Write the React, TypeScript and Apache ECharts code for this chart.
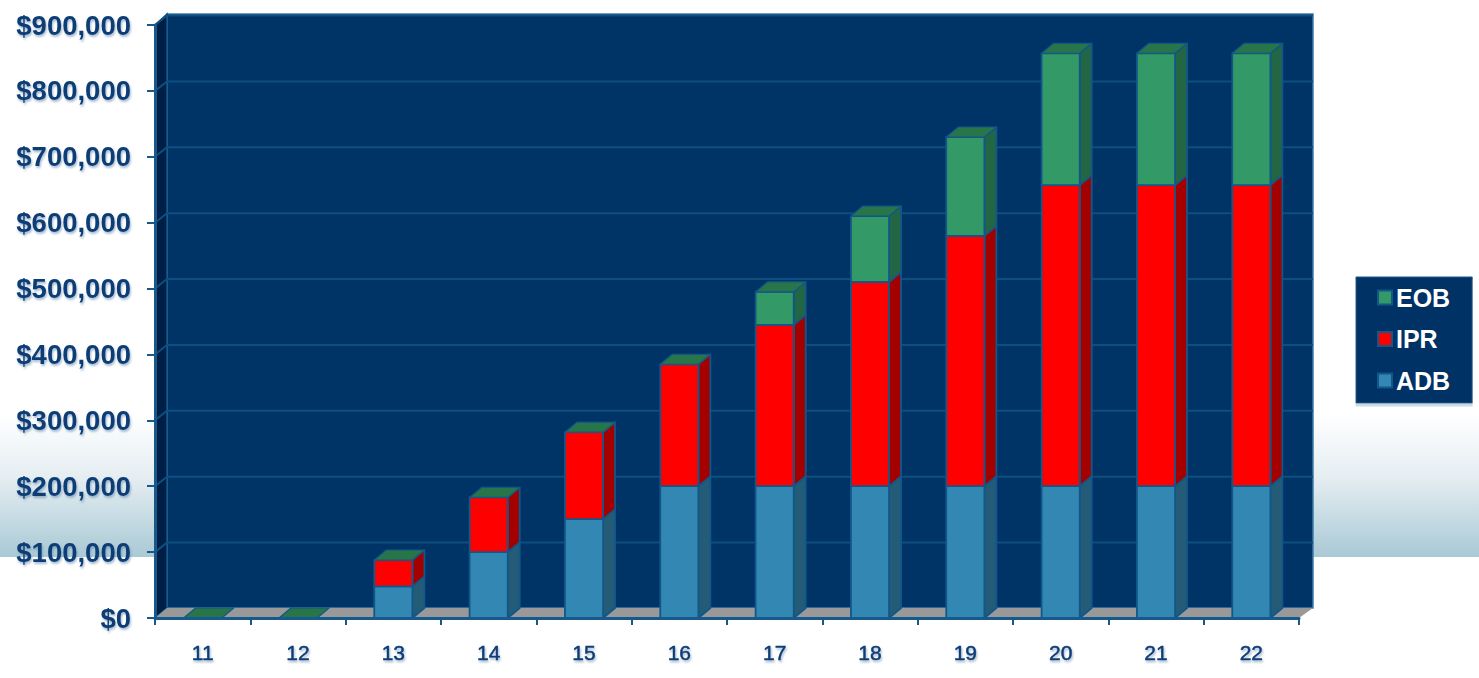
import React, { useEffect, useRef } from "react";
import * as echarts from "echarts";

const categories = ["11", "12", "13", "14", "15", "16", "17", "18", "19", "20", "21", "22"];
const adbValues = [0, 0, 48000, 100000, 150000, 200000, 200000, 200000, 200000, 200000, 200000, 200000];
const iprValues = [0, 0, 40000, 83000, 132000, 185000, 245000, 310000, 380000, 457000, 457000, 457000];
const eobValues = [0, 0, 0, 0, 0, 0, 50000, 100000, 150000, 200000, 200000, 200000];
const valueTicks = [0, 100000, 200000, 300000, 400000, 500000, 600000, 700000, 800000, 900000];

const NAVY = "#003366";
const EDGE = "#12578a";
const INK = "#0b3c75";
const DEPTH_X = 12;
const DEPTH_Y = 10;
const BAR_RATIO = 0.4;

type Stack = { name: string; values: number[]; below: number[][]; front: string; side: string; top?: string };

const sumBelow = (lists: number[][], i: number) => lists.reduce((acc, l) => acc + l[i], 0);

// One stacked block: front and side faces, plus a lid when it closes the column.
function stackSeries({ name, values, below, front, side, top }: Stack) {
  return {
    type: "custom",
    name,
    z: 3,
    coordinateSystem: "cartesian2d",
    itemStyle: { color: front, borderColor: EDGE, borderWidth: 2 },
    encode: { x: 0, y: 2 },
    data: values.map((v, i) => [i, sumBelow(below, i), sumBelow(below, i) + v]),
    renderItem: (_: unknown, api: any) => {
      const i = api.value(0);
      const [cx, y0] = api.coord([i, api.value(1)]);
      const [, y1] = api.coord([i, api.value(2)]);
      const half = (api.size([1, 0])[0] * BAR_RATIO) / 2;
      const l = cx - half;
      const r = cx + half;
      const stroke = { stroke: EDGE, lineWidth: 1.8, lineJoin: "round" };
      const children: any[] = [];
      if (y0 - y1 > 0.5) {
        children.push({
          type: "polygon",
          shape: { points: [[r, y0], [r + DEPTH_X, y0 - DEPTH_Y], [r + DEPTH_X, y1 - DEPTH_Y], [r, y1]] },
          style: { fill: side, ...stroke },
        });
        children.push({
          type: "polygon",
          shape: { points: [[l, y0], [r, y0], [r, y1], [l, y1]] },
          style: { fill: front, ...stroke },
        });
      }
      if (top) {
        children.push({
          type: "polygon",
          shape: { points: [[l, y1], [r, y1], [r + DEPTH_X, y1 - DEPTH_Y], [l + DEPTH_X, y1 - DEPTH_Y]] },
          style: { fill: top, stroke: EDGE, lineWidth: 1.2, lineJoin: "round" },
        });
      }
      return { type: "group", children };
    },
  };
}

// Back wall, left wall and floor of the box the columns stand in.
const wallsSeries = {
  type: "custom",
  name: "walls",
  z: 1,
  silent: true,
  data: [[0, 0]],
  renderItem: (params: any) => {
    const { x, y, width, height } = params.coordSys;
    const bottom = y + height;
    const right = x + width;
    const bx = x + DEPTH_X;
    const brx = right + DEPTH_X + 2;
    const ty = y - DEPTH_Y - 1;
    const by = bottom - DEPTH_Y;
    return {
      type: "group",
      children: [
        {
          type: "polygon",
          shape: { points: [[bx, ty], [brx, ty], [brx, by], [bx, by]] },
          style: { fill: NAVY, stroke: "#3f7ea8", lineWidth: 1.5 },
        },
        {
          type: "polygon",
          shape: { points: [[x, y], [bx, ty], [bx, by], [x, bottom]] },
          style: { fill: "#001f47", stroke: EDGE, lineWidth: 1.5 },
        },
        {
          type: "polygon",
          shape: { points: [[x, bottom], [right, bottom], [brx, by], [bx, by]] },
          style: { fill: "#999999" },
        },
      ],
    };
  },
};

// Grid rules run along the back wall and fold down the left wall to each tick.
const rulesSeries = {
  type: "custom",
  name: "rules",
  z: 2,
  silent: true,
  encode: { y: 1 },
  data: valueTicks.slice(1).map((v) => [0, v]),
  renderItem: (params: any, api: any) => {
    const { x, width } = params.coordSys;
    const [, py] = api.coord([0, api.value(1)]);
    return {
      type: "polyline",
      shape: { points: [[x, py], [x + DEPTH_X, py - DEPTH_Y + 0.5], [x + width + DEPTH_X + 2, py - DEPTH_Y + 0.5]] },
      style: { fill: "none", stroke: "#0e4f80", lineWidth: 2 },
    };
  },
};

const labelHalo = {
  textShadowColor: "rgba(90,130,170,0.55)",
  textShadowBlur: 2,
  textShadowOffsetX: 1,
  textShadowOffsetY: 2,
};

export default function App() {
  const ref = useRef<HTMLDivElement>(null);

  useEffect(() => {
    document.body.style.margin = "0";
    document.body.style.background = "#ffffff";
    const chart = echarts.init(ref.current!, null, { renderer: "svg" });
    chart.setOption({
      animation: false,
      backgroundColor: "#ffffff",
      graphic: [
        {
          type: "rect",
          z: -10,
          shape: { x: 0, y: 415, width: 1479, height: 142 },
          style: {
            fill: new echarts.graphic.LinearGradient(0, 0, 0, 1, [
              { offset: 0, color: "#ffffff" },
              { offset: 0.45, color: "#e4edf1" },
              { offset: 1, color: "#a9c9d5" },
            ]),
          },
        },
      ],
      grid: { left: 155, right: 180, top: 25, bottom: 60, containLabel: false },
      legend: {
        left: 1356,
        top: 277,
        orient: "vertical",
        data: [
          { name: "EOB", icon: "rect" },
          { name: "IPR", icon: "rect" },
          { name: "ADB", icon: "rect" },
        ],
        backgroundColor: NAVY,
        borderColor: "#1b5a88",
        borderWidth: 1,
        shadowColor: "#c9dbe4",
        shadowOffsetY: 3,
        shadowBlur: 0,
        padding: [6, 22, 8, 21],
        itemWidth: 14,
        itemHeight: 14,
        itemGap: 12.5,
        selectedMode: false,
        textStyle: {
          color: "#ffffff",
          fontFamily: "Liberation Sans",
          fontWeight: "bold",
          fontSize: 25,
          lineHeight: 29,
          padding: [0, 0, 0, -1],
        },
      },
      xAxis: {
        type: "category",
        data: categories,
        z: 4,
        axisLine: { lineStyle: { color: "#17598a", width: 3 } },
        axisTick: { show: true, length: 7, lineStyle: { color: "#17598a", width: 2 }, alignWithLabel: false },
        axisLabel: {
          color: INK,
          fontFamily: "Liberation Sans",
          fontSize: 21,
          margin: 24,
          interval: 0,
          textBorderColor: INK,
          textBorderWidth: 0.5,
          ...labelHalo,
        },
      },
      yAxis: {
        type: "value",
        min: 0,
        max: 900000,
        interval: 100000,
        z: 4,
        splitLine: { show: false },
        axisLine: { show: true, lineStyle: { color: "#17598a", width: 3 } },
        axisTick: { show: true, length: 8, lineStyle: { color: "#17598a", width: 2 } },
        axisLabel: {
          color: INK,
          fontFamily: "Liberation Sans",
          fontWeight: "bold",
          fontSize: 27.5,
          margin: 24,
          formatter: (v: number) => "$" + v.toLocaleString("en-US"),
          ...labelHalo,
        },
      },
      series: [
        wallsSeries,
        rulesSeries,
        stackSeries({ name: "ADB", values: adbValues, below: [], front: "#3288b2", side: "#245c78" }),
        stackSeries({ name: "IPR", values: iprValues, below: [adbValues], front: "#ff0000", side: "#a50000" }),
        stackSeries({
          name: "EOB",
          values: eobValues,
          below: [adbValues, iprValues],
          front: "#339966",
          side: "#226644",
          top: "#277548",
        }),
      ],
    });
    return () => chart.dispose();
  }, []);

  return <div ref={ref} style={{ position: "fixed", left: 0, top: 0, width: 1479, height: 678 }} />;
}
